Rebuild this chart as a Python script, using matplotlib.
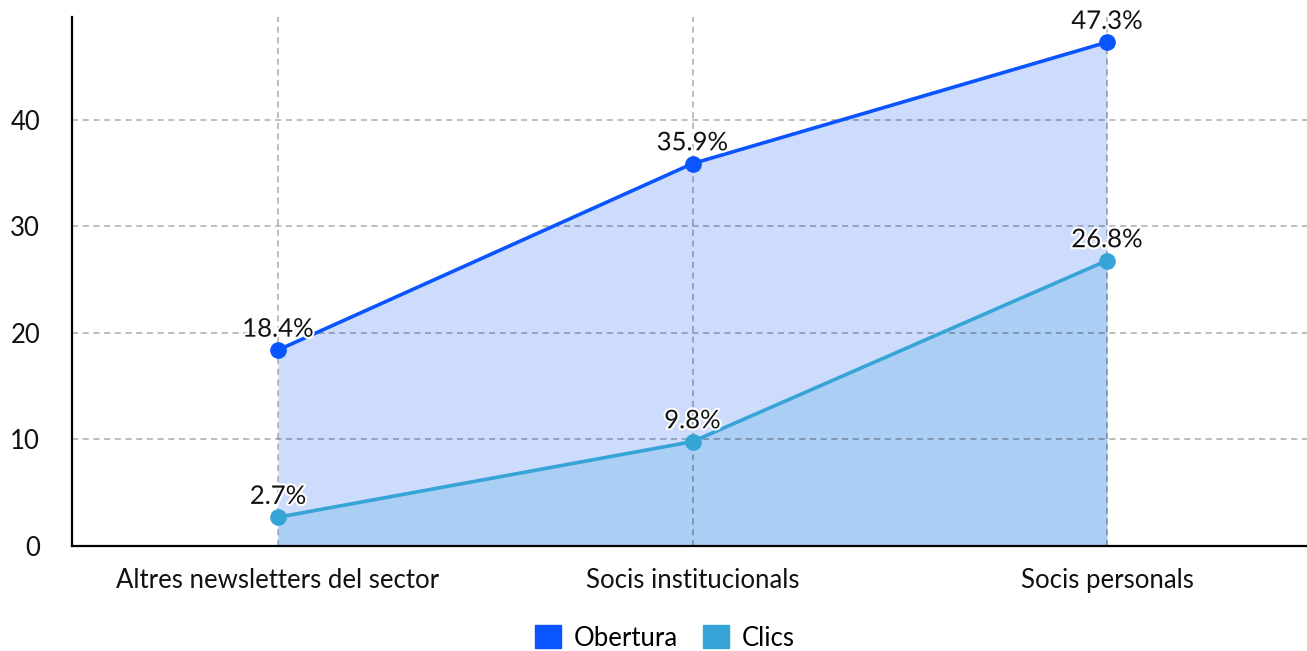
import numpy as np
import matplotlib.pyplot as plt
import matplotlib.patheffects as pe
from matplotlib.patches import Patch

# --- data ---
categories = ["Altres newsletters del sector", "Socis institucionals", "Socis personals"]
obertura = [18.4, 35.9, 47.3]
clics = [2.7, 9.8, 26.8]
series_names = ["Obertura", "Clics"]

line_colors = ["#0a55ff", "#36a4d6"]
fill_colors = ["#cddcfc", "#abcef4"]

plt.rcParams['font.family'] = ['Lato', 'DejaVu Sans']
fs = 18.5

fig = plt.figure(figsize=(13.07, 6.51), dpi=100)
ax = fig.add_axes([72 / 1307, 1 - 546 / 651, 1 - 72 / 1307, (546 - 17) / 651])

x = np.arange(len(categories))

for vals, lc, fc in zip([obertura, clics], line_colors, fill_colors):
    ax.fill_between(x, 0, vals, color=fc, zorder=1, linewidth=0)
for vals, lc in zip([obertura, clics], line_colors):
    ax.plot(x, vals, color=lc, lw=2.6, marker='o', markersize=11, zorder=4)
    for xi, v in zip(x, vals):
        ax.annotate(f"{v}%", (xi, v), xytext=(0, 6), textcoords='offset points',
                    ha='center', va='bottom', fontsize=fs, color='#111111', zorder=5,
                    path_effects=[pe.withStroke(linewidth=3, foreground='white')])

ax.set_xlim(-0.497, 2.4825)
ax.set_ylim(0, max(obertura) * 1.05)
ax.set_xticks(x)
ax.set_xticklabels(categories)
ax.set_yticks([0, 10, 20, 30, 40])
ax.tick_params(axis='both', length=0, labelsize=fs, colors='#111111')
ax.tick_params(axis='x', pad=15.5)
ax.tick_params(axis='y', pad=23)

ax.grid(True, color='black', alpha=0.33, linestyle=(0, (4, 3)), lw=1.1, zorder=2)
ax.set_axisbelow(False)
for s in ['top', 'right']:
    ax.spines[s].set_visible(False)
for s in ['left', 'bottom']:
    ax.spines[s].set_linewidth(1.6)
    ax.spines[s].set_zorder(3)

handles = [Patch(facecolor=c, edgecolor=c, label=n) for c, n in zip(line_colors, series_names)]
fig.legend(handles=handles, loc='center', bbox_to_anchor=(665 / 1307, 1 - 638 / 651),
           ncol=2, frameon=False, fontsize=fs, handlelength=1.0, handleheight=1.0,
           handletextpad=0.5, columnspacing=1.0)

fig.savefig('out.png', dpi=100)
